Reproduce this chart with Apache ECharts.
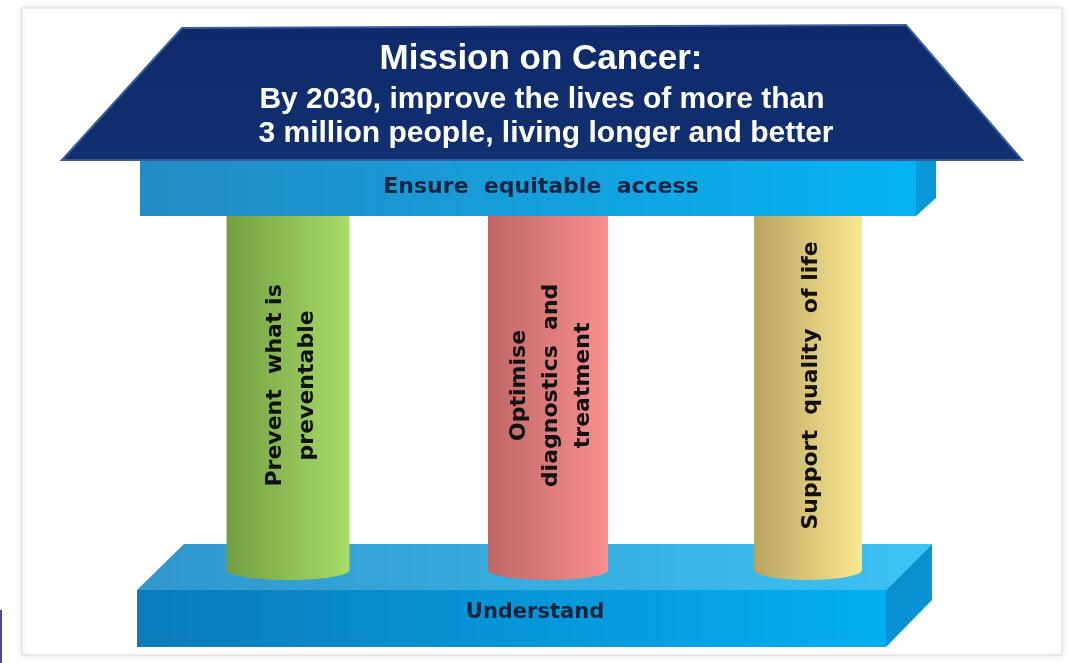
<!DOCTYPE html>
<html>
<head>
<meta charset="utf-8">
<script src="https://cdn.jsdelivr.net/npm/echarts@6/dist/echarts.min.js"></script>
<style>
html,body{margin:0;padding:0;background:#ffffff;}
#chart{width:1068px;height:663px;}
</style>
</head>
<body>
<div id="chart"></div>
<script>
// ---- content ----
const titleLines = ['Mission on Cancer:', 'By 2030, improve the lives of more than', '3 million people, living longer and better'];
const beamLabel = 'Ensure  equitable  access';
const baseLabel = 'Understand';
const pillarNames = ['Prevent what is preventable', 'Optimise diagnostics and treatment', 'Support quality of life'];
const pillarLines = [['Prevent  what is', 'preventable'], ['Optimise', 'diagnostics  and', 'treatment'], ['Support  quality  of life']];
const pillarHeight = [1, 1, 1];

// ---- styles (not data) ----
const pillarWidthRatio = [0.473, 0.462, 0.415];
const pillarColors = [['#729e42', '#a9dc68'], ['#bf6666', '#f98f8f'], ['#b9a363', '#f9e88f']];

function hGrad(a, b) {
  return {type: 'linear', x: 0, y: 0, x2: 1, y2: 0, colorStops: [{offset: 0, color: a}, {offset: 1, color: b}]};
}

const chart = echarts.init(document.getElementById('chart'), null, {renderer: 'canvas'});

const option = {
  backgroundColor: '#ffffff',
  animation: false,
  grid: {left: 158, right: 130, top: 215, bottom: 93},
  xAxis: {type: 'category', data: pillarNames, show: false},
  yAxis: {type: 'value', min: 0, max: 1, show: false},
  graphic: [
    // card frame
    {type: 'rect', z: 0, shape: {x: 22, y: 8, width: 1040, height: 647},
     style: {fill: '#ffffff', stroke: '#dcdcdc', lineWidth: 1, shadowBlur: 6, shadowColor: 'rgba(0,0,0,0.12)'}},
    {type: 'rect', z: 0, shape: {x: 0, y: 610, width: 2, height: 53}, style: {fill: '#4a46a6'}},
    // base (Understand)
    {type: 'polygon', z: 1, shape: {points: [[184, 544], [932, 544], [886, 590], [137, 590]]},
     style: {fill: hGrad('#3196cb', '#3cc3f3')}},
    {type: 'rect', z: 1, shape: {x: 137, y: 590, width: 749, height: 57},
     style: {fill: hGrad('#0b7bbb', '#03aff1')}},
    {type: 'polygon', z: 1, shape: {points: [[886, 590], [932, 544], [932, 600], [886, 647]]},
     style: {fill: '#0a92d2'}},
    {type: 'text', z: 1, x: 535, y: 613,
     style: {text: baseLabel, fill: '#14233c', font: 'bold 21px "DejaVu Sans"', align: 'center', verticalAlign: 'middle'}},
    // beam (Ensure equitable access)
    {type: 'rect', z: 10, shape: {x: 140, y: 158, width: 776, height: 58},
     style: {fill: hGrad('#248bc4', '#05b3f3')}},
    {type: 'polygon', z: 10, shape: {points: [[916, 158], [936, 158], [936, 198], [916, 216]]},
     style: {fill: '#0a98d8'}},
    {type: 'text', z: 10, x: 541, y: 187,
     style: {text: beamLabel, fill: '#172340', font: 'bold 22px "DejaVu Sans"', align: 'center', verticalAlign: 'middle'}},
    // roof
    {type: 'polygon', z: 11, shape: {points: [[182, 28], [906, 25], [1022, 160], [62, 160]]},
     style: {fill: {type: 'linear', x: 0, y: 0, x2: 0, y2: 1, colorStops: [{offset: 0, color: '#0e2a6b'}, {offset: 1, color: '#11306f'}]},
             stroke: '#3a5c9c', lineWidth: 2}},
    {type: 'text', z: 12, x: 541, y: 59,
     style: {text: titleLines[0], fill: '#ffffff', font: 'bold 35px "Liberation Sans", Arial, sans-serif', align: 'center', verticalAlign: 'middle'}},
    {type: 'text', z: 12, x: 542, y: 100,
     style: {text: titleLines[1], fill: '#ffffff', font: 'bold 30px "Liberation Sans", Arial, sans-serif', align: 'center', verticalAlign: 'middle'}},
    {type: 'text', z: 12, x: 546, y: 134,
     style: {text: titleLines[2], fill: '#ffffff', font: 'bold 30px "Liberation Sans", Arial, sans-serif', align: 'center', verticalAlign: 'middle'}}
  ],
  series: [{
    type: 'custom',
    z: 5,
    data: pillarHeight.map((v, i) => [i, v]),
    renderItem: function (params, api) {
      const i = params.dataIndex;
      const top = api.coord([api.value(0), api.value(1)]);
      const bot = api.coord([api.value(0), 0]);
      const mid = api.coord([api.value(0), 0.52]);
      const w = api.size([1, 0])[0] * pillarWidthRatio[i];
      const cx = top[0];
      const fill = hGrad(pillarColors[i][0], pillarColors[i][1]);
      return {
        type: 'group',
        children: [
          {type: 'ellipse', shape: {cx: cx, cy: bot[1], rx: w / 2, ry: 10}, style: {fill: fill}},
          {type: 'rect', shape: {x: cx - w / 2, y: top[1], width: w, height: bot[1] - top[1]}, style: {fill: fill}},
          {type: 'text', x: cx + 3, y: mid[1], rotation: Math.PI / 2,
           style: {text: pillarLines[i].join('\n'), fill: '#111111', font: 'bold 22px "DejaVu Sans"',
                   align: 'center', verticalAlign: 'middle', lineHeight: 32}}
        ]
      };
    }
  }]
};
chart.setOption(option);
</script>
</body>
</html>
